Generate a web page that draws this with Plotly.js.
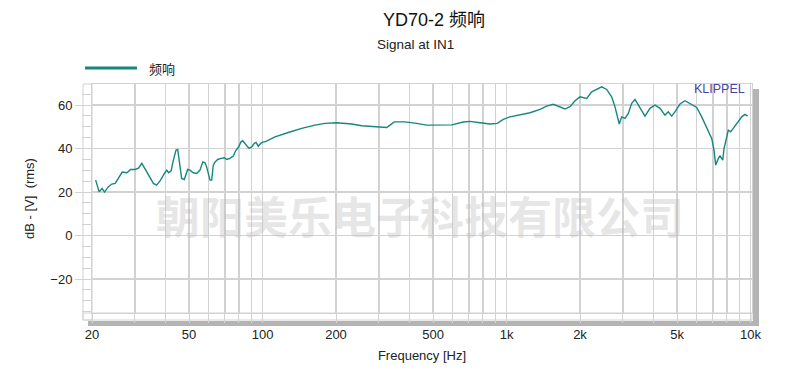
<!DOCTYPE html>
<html>
<head>
<meta charset="utf-8">
<script src="https://cdn.plot.ly/plotly-3.0.1.min.js"></script>
<style>html,body{margin:0;padding:0;background:#fff;}#chart{width:790px;height:390px;}</style>
</head>
<body>
<div id="chart"></div>
<script>
// Frequency response data (Hz, dB)
const freqHz = [20.7,21.0,21.4,22.0,22.5,23.3,24.1,24.9,25.9,26.6,27.8,28.8,30.0,31.0,32.0,32.7,34.0,35.7,36.8,38.2,39.8,40.5,41.2,42.2,43.1,44.2,44.9,45.6,45.9,46.6,47.8,48.6,49.3,50.4,52.0,53.7,55.4,56.9,58.1,59.0,59.9,60.9,61.9,62.8,63.9,65.5,67.6,69.7,71.3,73.5,75.9,77.6,79.6,81.6,82.9,84.2,86.1,88.0,90.3,92.5,94.0,96.1,98.3,100.7,102.3,112.5,127.5,144.7,164.0,180.3,201.3,231.9,254.9,289,322.7,333,346.7,383.6,414.8,428.3,470.8,533.6,596,664.7,708.5,778.6,855.3,916.6,969.8,1033,1136,1248,1371,1461,1554,1630,1736,1820,1908,2000,2131,2234,2341,2454,2573,2697,2782,2843,2897,2964,3058,3155,3258,3361,3467,3580,3693,3871,4058,4255,4460,4601,4751,4900,5137,5386,5646,6017,6307,6612,6932,7084,7198,7378,7498,7690,7786,7934,8108,8293,8499,8717,8910,9199,9488,9733];
const levelDb = [25.5,23.2,20.1,21.7,20.0,22.4,23.7,24.0,27.0,29.2,28.9,30.4,30.4,31.0,33.2,31.4,27.8,24.0,23.2,25.5,28.9,30.1,28.9,29.8,34.7,39.3,39.6,34.7,30.9,26.3,25.8,28.6,30.4,30.1,28.9,28.6,30.1,33.9,33.5,31.6,28.6,25.5,25.5,32.4,33.9,35.0,35.5,35.8,35.0,35.5,36.6,39.0,40.6,43.1,43.6,42.7,41.6,40.1,40.8,42.4,42.8,41.1,42.4,43.1,43.1,45.4,47.4,49.3,50.8,51.6,51.9,51.3,50.5,50.0,49.7,50.8,52.3,52.3,51.9,51.6,50.8,50.9,50.9,52.2,52.5,51.9,51.3,51.6,53.4,54.6,55.6,56.5,58.0,59.5,60.4,59.5,58.2,59.3,62.0,63.8,63.1,66.1,67.2,68.4,67.2,63.8,59.2,54.6,51.3,54.6,53.9,56.2,60.8,62.6,60.0,56.9,54.9,58.5,60.0,58.5,55.4,56.9,54.9,56.9,60.5,62.0,60.8,58.9,54.6,50.0,44.7,39.3,32.4,35.5,36.6,34.7,40.1,43.9,48.5,47.7,49.3,51.3,52.8,54.6,55.7,54.9];

// Axis ticks
const xTickVals = [20,50,100,200,500,1000,2000,5000,10000];
const xTickText = ["20","50","100","200","500","1k","2k","5k","10k"];
const xGridVals = [30,40,60,70,80,90,300,400,600,700,800,900,3000,4000,6000,7000,8000,9000];
const yTickVals = [-20,0,20,40,60];

const seriesName = "频响";
const titleText = "YD70-2 频响";
const subtitleText = "Signal at IN1";
const watermarkText = "朝阳美乐电子科技有限公司";

const lineColor = "#17877d";
const gridColor = "#d2d2d2";
const font = "Liberation Sans, Arial, Noto Sans CJK SC, sans-serif";

const trace = {
  x: freqHz, y: levelDb, type: "scatter", mode: "lines", name: seriesName,
  line: {color: lineColor, width: 1.4}, showlegend: false
};

const layout = {
  width: 790, height: 390,
  margin: {l: 92, r: 38, t: 84, b: 77},
  paper_bgcolor: "#ffffff", plot_bgcolor: "#ffffff",
  font: {family: font, size: 13, color: "#222"},
  title: {text: titleText, x: 434/790, xanchor: "center", y: 1 - 20/390, yanchor: "middle", yref: "container",
          font: {family: font, size: 18, color: "#111"}},
  xaxis: {
    type: "log", range: [Math.log10(20), Math.log10(20) + 660/244],
    tickmode: "array", tickvals: xTickVals, ticktext: xTickText,
    ticks: "outside", ticklen: 9, tickcolor: gridColor, tickwidth: 1,
    showgrid: true, gridcolor: gridColor, gridwidth: 1.5,
    minor: {tickmode: "array", tickvals: xGridVals, ticks: "outside", ticklen: 9, tickcolor: gridColor,
            showgrid: true, gridcolor: gridColor, gridwidth: 1.5},
    showline: true, mirror: true, linecolor: gridColor, linewidth: 1,
    tickfont: {family: font, size: 13, color: "#222"},
    title: {text: "Frequency [Hz]", standoff: 10, font: {family: font, size: 13, color: "#222"}},
    zeroline: false
  },
  yaxis: {
    range: [-35.6, 69.7],
    tickmode: "array", tickvals: yTickVals,
    ticks: "outside", ticklen: 16, tickcolor: gridColor, tickwidth: 1,
    showgrid: true, gridcolor: gridColor, gridwidth: 1.5,
    minor: {dtick: 5, tick0: 0, ticks: "outside", ticklen: 9, tickcolor: gridColor, showgrid: false},
    showline: true, mirror: true, linecolor: gridColor, linewidth: 1,
    tickfont: {family: font, size: 13, color: "#222"},
    title: {text: "dB - [V]  (rms)", standoff: 12, font: {family: font, size: 13, color: "#222"}},
    zeroline: false
  },
  shapes: [
    {type: "rect", xref: "paper", yref: "paper", x0: -9/660, x1: 0, y0: -7/229, y1: 1, line: {color: gridColor, width: 1}},
    {type: "rect", xref: "paper", yref: "paper", x0: -9/660, x1: 1, y0: -7/229, y1: 0, line: {color: gridColor, width: 1}},
    {type: "rect", xref: "paper", yref: "paper", x0: 1 + 1/660, x1: 1 + 7/660, y0: -13/229, y1: 1 - 5/229, fillcolor: "#b4b4b4", line: {width: 0}, layer: "below"},
    {type: "rect", xref: "paper", yref: "paper", x0: -4/660, x1: 1 + 7/660, y0: -13/229, y1: -8/229, fillcolor: "#b4b4b4", line: {width: 0}, layer: "below"},
    {type: "line", xref: "paper", yref: "paper", x0: -7/660, x1: 45/660, y0: (313-68)/229, y1: (313-68)/229, line: {color: lineColor, width: 3}}
  ],
  annotations: [
    {text: subtitleText, xref: "paper", yref: "paper", x: (415-92)/660, y: (313-45)/229, xanchor: "center", yanchor: "middle",
     showarrow: false, font: {family: font, size: 13.5, color: "#222"}},
    {text: seriesName, xref: "paper", yref: "paper", x: (147-92)/660, y: (313-68)/229, xanchor: "left", yanchor: "middle",
     showarrow: false, font: {family: "Noto Sans CJK SC, sans-serif", size: 13, color: "#222"}},
    {text: "KLIPPEL", xref: "paper", yref: "paper", x: (747-92)/660, y: (313-89)/229, xanchor: "right", yanchor: "middle",
     showarrow: false, font: {family: font, size: 12.5, color: "#4646a8"}},
    {text: watermarkText, xref: "paper", yref: "paper", x: (420-92)/660, y: (313-215)/229, xanchor: "center", yanchor: "middle",
     showarrow: false, font: {family: "Noto Sans CJK SC, sans-serif", size: 44, weight: 700, color: "rgba(185,185,185,0.34)"}}
  ],
  showlegend: false
};

Plotly.newPlot("chart", [trace], layout, {displayModeBar: false, staticPlot: true});
</script>
</body>
</html>
